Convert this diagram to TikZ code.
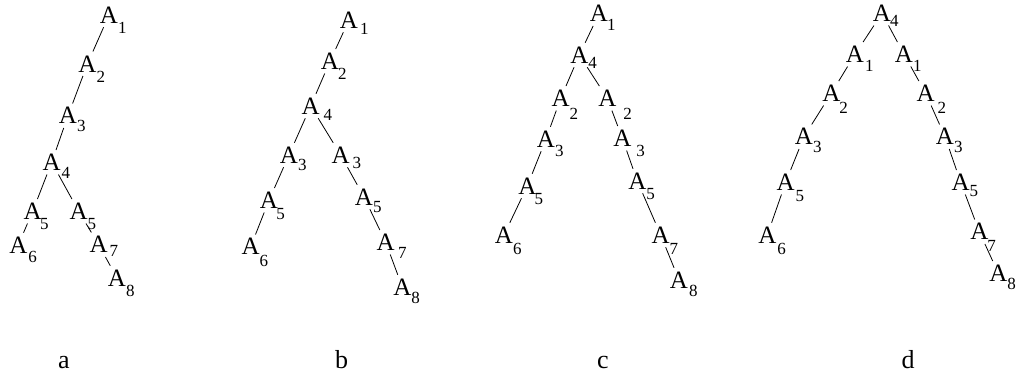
\documentclass[tikz,border=0pt]{standalone}
\usepackage{fontspec}
\setmainfont{Liberation Serif}
\newcommand{\Asub}[3]{A\smash{\rlap{\kern#2pt\raisebox{-#3pt}{\fontsize{8.5}{10}\selectfont #1}}}}

\begin{document}
\begin{tikzpicture}[
  x=0.5pt,y=-0.5pt,
  anode/.style={inner sep=2pt,outer sep=0pt,font=\fontsize{12.5}{14}\selectfont},
  panel/.style={anchor=base,inner sep=0pt,font=\fontsize{13}{15}\selectfont},
  edge/.style={thin,draw=black}
]
  \useasboundingbox (0,0) rectangle (1021,375);

  % tree a
  \node[anode] (a1)  at (109,15)    {\Asub{1}{0}{5}};
  \node[anode] (a2)  at (87.5,63.8) {\Asub{2}{0}{5}};
  \node[anode] (a3)  at (68,115.7)  {\Asub{3}{0}{4}};
  \node[anode] (a4)  at (51.7,162.3){\Asub{4}{0.5}{3.8}};
  \node[anode] (a5l) at (32.7,211.3){\Asub{5}{-0.8}{5}};
  \node[anode] (a5r) at (78.7,211.3){\Asub{5}{0}{5}};
  \node[anode] (a6)  at (18.3,245)  {\Asub{6}{0.5}{4.7}};
  \node[anode] (a7)  at (98.7,244.7){\Asub{7}{1}{2}};
  \node[anode] (a8)  at (117,278)   {\Asub{8}{0}{5}};

  % tree b
  \node[anode] (b1)  at (349,20)    {\Asub{1}{1}{3}};
  \node[anode] (b2)  at (330,61.3)  {\Asub{2}{-0.5}{5}};
  \node[anode] (b4)  at (310.7,106) {\Asub{4}{2}{3.3}};
  \node[anode] (b3l) at (289,155)   {\Asub{3}{0}{3.7}};
  \node[anode] (b3r) at (340.7,155) {\Asub{3}{1.5}{2.5}};
  \node[anode] (b5l) at (269,200.3) {\Asub{5}{-0.8}{5.3}};
  \node[anode] (b5r) at (364,197)   {\Asub{5}{0}{3.7}};
  \node[anode] (b6)  at (250.7,246.7){\Asub{6}{0}{5.8}};
  \node[anode] (b7)  at (385.7,242.3){\Asub{7}{1.7}{4.2}};
  \node[anode] (b8)  at (402.3,287) {\Asub{8}{0}{4}};

  % tree c
  \node[anode] (c1)  at (599,13.7)  {\Asub{1}{-0.5}{4.2}};
  \node[anode] (c4)  at (579.3,55)  {\Asub{4}{0}{2.5}};
  \node[anode] (c2l) at (560.7,98.3){\Asub{2}{0}{6.7}};
  \node[anode] (c2r) at (607.3,98.3){\Asub{2}{3.5}{6.7}};
  \node[anode] (c3l) at (546,139)   {\Asub{3}{0}{4.7}};
  \node[anode] (c3r) at (622.3,138.3){\Asub{3}{2.5}{5}};
  \node[anode] (c5l) at (527.3,186) {\Asub{5}{-0.8}{5}};
  \node[anode] (c5r) at (637.3,181) {\Asub{5}{0}{5.3}};
  \node[anode] (c6)  at (504,235)   {\Asub{6}{0}{5.8}};
  \node[anode] (c7)  at (660.7,235) {\Asub{7}{0}{5.8}};
  \node[anode] (c8)  at (679,280)   {\Asub{8}{0.5}{4.2}};

  % tree d
  \node[anode] (d4)  at (882,13.3)  {\Asub{4}{-0.5}{2.5}};
  \node[anode] (d1l) at (855,54.3)  {\Asub{1}{0.5}{4.5}};
  \node[anode] (d1r) at (904,54.3)  {\Asub{1}{0}{4.5}};
  \node[anode] (d2l) at (831.3,93.3){\Asub{2}{-0.5}{5.8}};
  \node[anode] (d2r) at (925.7,93.3){\Asub{2}{1.5}{5.8}};
  \node[anode] (d3l) at (804,136.7) {\Asub{3}{0}{3.8}};
  \node[anode] (d3r) at (945,136.7) {\Asub{3}{0}{3.8}};
  \node[anode] (d5l) at (785.7,182.3){\Asub{5}{0.5}{5.5}};
  \node[anode] (d5r) at (960.7,182.3){\Asub{5}{0}{3}};
  \node[anode] (d6)  at (767.3,235) {\Asub{6}{0.5}{5.8}};
  \node[anode] (d7)  at (979.3,231.7){\Asub{7}{-0.5}{5.8}};
  \node[anode] (d8)  at (998.3,273.3){\Asub{8}{0}{3.8}};

  % captions
  \node[panel] (capa) at (64,368)    {a};
  \node[panel] (capb) at (341.5,368) {b};
  \node[panel] (capc) at (603,368)   {c};
  \node[panel] (capd) at (908,368)   {d};

  \foreach \p/\c in {a1/a2,a2/a3,a3/a4,a4/a5l,a4/a5r,a5l/a6,a5r/a7,a7/a8,
                     b1/b2,b2/b4,b4/b3l,b4/b3r,b3l/b5l,b5l/b6,b3r/b5r,b5r/b7,b7/b8,
                     c1/c4,c4/c2l,c4/c2r,c2l/c3l,c3l/c5l,c5l/c6,c2r/c3r,c3r/c5r,c5r/c7,c7/c8,
                     d4/d1l,d4/d1r,d1l/d2l,d2l/d3l,d3l/d5l,d5l/d6,d1r/d2r,d2r/d3r,d3r/d5r,d5r/d7,d7/d8}
    \draw[edge] (\p) -- (\c);
\end{tikzpicture}
\end{document}
